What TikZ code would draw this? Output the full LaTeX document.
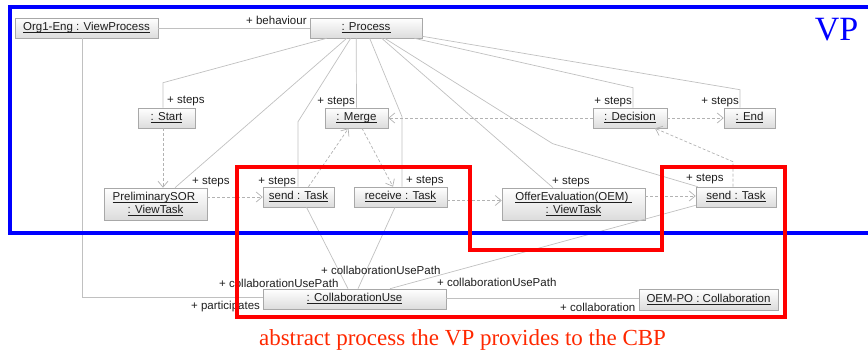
\documentclass[tikz,border=0pt]{standalone}
\usepackage{fontspec}
\usepackage{amsmath}
\setmainfont{Liberation Serif}
\setsansfont{Liberation Sans}
\usetikzlibrary{calc,arrows.meta}
\definecolor{edgegray}{RGB}{192,192,192}
\definecolor{flowgray}{RGB}{178,178,178}
\definecolor{boxline}{RGB}{168,168,168}
\definecolor{boxfill}{RGB}{220,220,220}
\definecolor{txt}{RGB}{30,30,30}
\definecolor{vpblue}{RGB}{0,0,255}
\definecolor{cbpred}{RGB}{255,0,0}
\definecolor{captionred}{RGB}{255,40,0}
\newcommand\ulname[1]{\underline{\smash[b]{#1}}}

\begin{document}
\begin{tikzpicture}[x=1pt,y=-1pt,
  obj/.style={draw=boxline, line width=0.6pt, top color=white, bottom color=boxfill,
    inner sep=0pt, font=\sffamily\fontsize{11.5}{13}\selectfont, text=txt, align=center},
  role/.style={inner sep=0pt, font=\sffamily\fontsize{11.5}{13}\selectfont, text=txt},
  link/.style={draw=edgegray, line width=0.7pt},
  flow/.style={draw=flowgray, line width=0.7pt, dash pattern=on 3pt off 2pt,
    -{Straight Barb[length=6pt,width=10pt]}},
]
\useasboundingbox (0,0) rectangle (868,351);
\clip (0,0) rectangle (868,351);

% instance boxes
\node[obj, minimum width=143, minimum height=20] (org)    at (86.5,28)   {\ulname{Org1-Eng : ViewProcess}};
\node[obj, minimum width=112, minimum height=20] (proc)   at (366,28)    {\ulname{: Process}};
\node[obj, minimum width=57,  minimum height=20] (start)  at (166.5,118) {\ulname{: Start}};
\node[obj, minimum width=63,  minimum height=20] (merge)  at (356.5,118) {\ulname{: Merge}};
\node[obj, minimum width=74,  minimum height=20] (dec)    at (630,118)   {\ulname{: Decision}};
\node[obj, minimum width=51,  minimum height=20] (end)    at (749.5,118) {\ulname{: End}};
\node[obj, minimum width=103, minimum height=32] (prelim) at (155.5,204) {\ulname{PreliminarySOR\ }\\\ulname{: ViewTask}};
\node[obj, minimum width=71,  minimum height=20] (send)   at (298.5,197) {\ulname{send : Task}};
\node[obj, minimum width=93,  minimum height=20] (recv)   at (400.5,197) {\ulname{receive : Task}};
\node[obj, minimum width=143, minimum height=32] (offer)  at (573.5,204) {\ulname{OfferEvaluation(OEM)\ }\\\ulname{: ViewTask}};
\node[obj, minimum width=80,  minimum height=20] (sendb)  at (736,197)   {\ulname{send : Task}};
\node[obj, minimum width=183, minimum height=20] (cu)     at (354.5,299) {\ulname{: CollaborationUse}};
\node[obj, minimum width=139, minimum height=21] (oem)    at (708.5,299.5) {\ulname{OEM-PO : Collaboration}};

% structural links
\draw[link] (org.east) -- (proc.west);
\draw[link] ($(org.south)+(-4.5,0)$) |- ($(cu.west)+(0,-2)$);
\draw[link] ($(proc.south west)+(17,0)$) -- ($(start.north)+(-3.5,-25)$) -- ($(start.north)+(-3.5,0)$);
\draw[link] ($(proc.south west)+(37,0)$) -- ($(prelim.north)+(19.5,0)$);
\draw[link] ($(proc.south west)+(41,0)$) -- ($(send.north)+(-0.5,-65)$) -- ($(send.north)+(-0.5,0)$);
\draw[link] ($(proc.south west)+(46.5,0)$) -- (merge.north);
\draw[link] ($(proc.south west)+(60,0)$) -- ($(recv.north)+(1.5,-70)$) -- ($(recv.north)+(1.5,0)$);
\draw[link] ($(proc.south west)+(72,0)$) -- ($(offer.north)+(-20.5,0)$);
\draw[link] ($(proc.south west)+(75,0)$) -- ($(sendb.north west)+(-143,-43)$) -- ($(sendb.north west)+(2,0)$);
\draw[link] ($(proc.south east)+(-8,0)$) -- ($(dec.north)+(3,-20)$) -- ($(dec.north)+(3,0)$);
\draw[link] ($(proc.south east)+(0,-2)$) -- ($(end.north)+(-9.5,-18)$) -- ($(end.north)+(-9.5,0)$);
\draw[link] ($(send.south)+(8,0)$) -- ($(cu.north)+(-6.5,0)$);
\draw[link] ($(recv.south)+(-5.5,0)$) -- ($(cu.north)+(3.5,0)$);
\draw[link] ($(sendb.south west)+(0,-2)$) -- ($(cu.north)+(35.5,0)$);
\draw[link] ($(cu.east)+(0,-1)$) -- ($(oem.west)+(0,-1.5)$);

% control flow
\draw[flow] ($(start.south)+(-3.5,0)$) -- ($(prelim.north)+(7.5,0)$);
\draw[flow] ($(prelim.east)+(0,-7)$) -- (send.west);
\draw[flow] ($(send.north)+(10,0)$) -- ($(merge.south)+(-8,0)$);
\draw[flow] ($(merge.south)+(5.5,0)$) -- ($(recv.north)+(-7.5,0)$);
\draw[flow] ($(recv.east)+(0,3.5)$) -- ($(offer.west)+(0,-3.5)$);
\draw[flow] ($(offer.east)+(0,-8)$) -- ($(sendb.west)+(0,-1)$);
\draw[flow] ($(sendb.north)+(-3,0)$) -- ($(sendb.north)+(-3,-25)$) -- ($(dec.south)+(25,0)$);
\draw[flow] (dec.west) -- (merge.east);
\draw[flow] (dec.east) -- (end.west);

% role names
\node[role, anchor=base west] (rbeh)   at (246,24)  {+ behaviour};
\node[role, anchor=base west] (rstart) at (167,103) {+ steps};
\node[role, anchor=base east] (rmerge) at (355,104) {+ steps};
\node[role, anchor=base west] (rprel)  at (192,184) {+ steps};
\node[role, anchor=base east] (rsend)  at (296,184) {+ steps};
\node[role, anchor=base west] (rrecv)  at (406,183) {+ steps};
\node[role, anchor=base west] (roffer) at (552,184) {+ steps};
\node[role, anchor=base east] (rdec)   at (632,104) {+ steps};
\node[role, anchor=base east] (rend)   at (739,104) {+ steps};
\node[role, anchor=base west] (rsendb) at (686,181) {+ steps};
\node[role, anchor=base west] (rcu1)   at (321,274) {+ collaborationUsePath};
\node[role, anchor=base west] (rcu2)   at (219,287) {+ collaborationUsePath};
\node[role, anchor=base west] (rcu3)   at (437,286) {+ collaborationUsePath};
\node[role, anchor=base west] (rpart)  at (191,309) {+ participates};
\node[role, anchor=base west] (rcoll)  at (560,311) {+ collaboration};

% highlight frames
\draw[vpblue, line width=4pt] (880,7) -- (10,7) -- (10,233) -- (880,233);
\draw[cbpred, line width=4pt] (237,167) -- (470,167) -- (470,250) -- (662,250)
  -- (662,167) -- (785,167) -- (785,317) -- (237,317) -- cycle;

\node[anchor=base, text=vpblue, font=\fontsize{34}{38}\selectfont] (vp) at (836.5,40) {VP};
\node[anchor=base, text=captionred, font=\fontsize{23}{26}\selectfont] (caption) at (462.5,345)
  {abstract process the VP provides to the CBP};
\end{tikzpicture}
\end{document}
